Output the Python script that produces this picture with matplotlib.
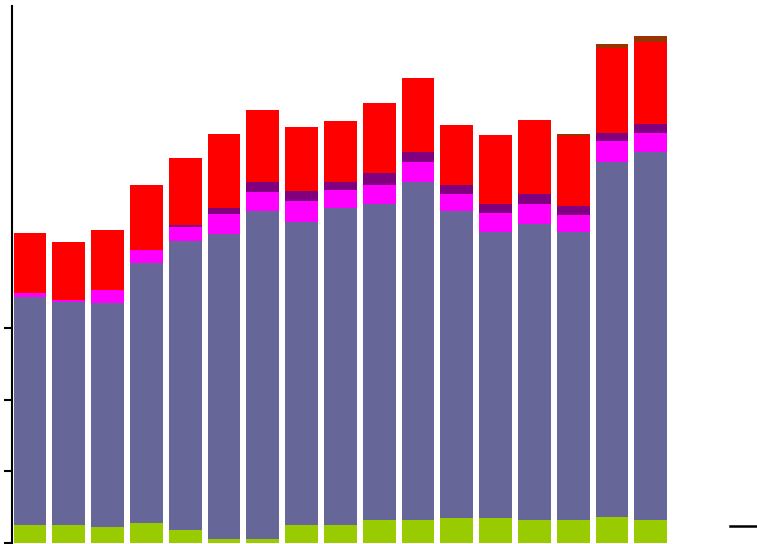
import matplotlib.pyplot as plt
import numpy as np
from matplotlib.lines import Line2D

# stacked values, bottom to top, one entry per bar
periods = list(range(1, 18))
green = [25, 25, 22, 28, 18, 5.6, 5.6, 25, 25, 32, 32, 35, 35, 32, 32, 36, 32]
slate = [318, 312, 313, 363, 404, 426, 458, 424, 443, 442, 472, 429, 400, 414, 403, 496, 514]
magenta = [5.6, 2.8, 18.6, 18.6, 19.5, 28, 27, 28, 25, 26, 28, 24, 26, 28, 23, 29, 26.5]
purple = [0, 0, 0, 0, 2.8, 8.4, 14, 14, 11, 16.7, 14, 12, 12.6, 14, 12.6, 11, 12.6]
red = [84, 81, 83, 91, 94, 103, 100, 90, 86, 98, 103, 84, 96, 103, 98, 120, 114.5]
brown = [0, 0, 0, 0, 0, 0, 0, 0, 0, 0, 0, 0, 0, 0, 2.8, 5.6, 8.4]

series = [green, slate, magenta, purple, red, brown]
colors = ['#99cc00', '#666699', '#ff00ff', '#800080', '#ff0000', '#993300']

fig = plt.figure(figsize=(7.57, 5.44), dpi=100)
ax = fig.add_axes([12/757, 1/544, 745/757, 537/544])

x = np.arange(len(periods))
bottom = np.zeros(len(periods))
for vals, c in zip(series, colors):
    vals = np.array(vals, dtype=float)
    ax.bar(x, vals, width=0.85, bottom=bottom, color=c, linewidth=0)
    bottom += vals

ax.set_xlim(-0.464, -0.464 + 745/38.8)
ax.set_ylim(0, 750)
ax.set_yticks([0, 100, 200, 300])
ax.set_yticklabels([])
ax.set_xticks([])
ax.tick_params(axis='y', direction='out', length=6, width=1.5, color='black')
for s in ['top', 'right', 'bottom']:
    ax.spines[s].set_visible(False)
ax.spines['left'].set_linewidth(1.5)

# stray legend handle at the lower right
fig.add_artist(Line2D([730/757, 757/757], [1 - 525.5/544] * 2,
                      color='black', linewidth=1.8, transform=fig.transFigure))

fig.savefig('out.png', dpi=100)
